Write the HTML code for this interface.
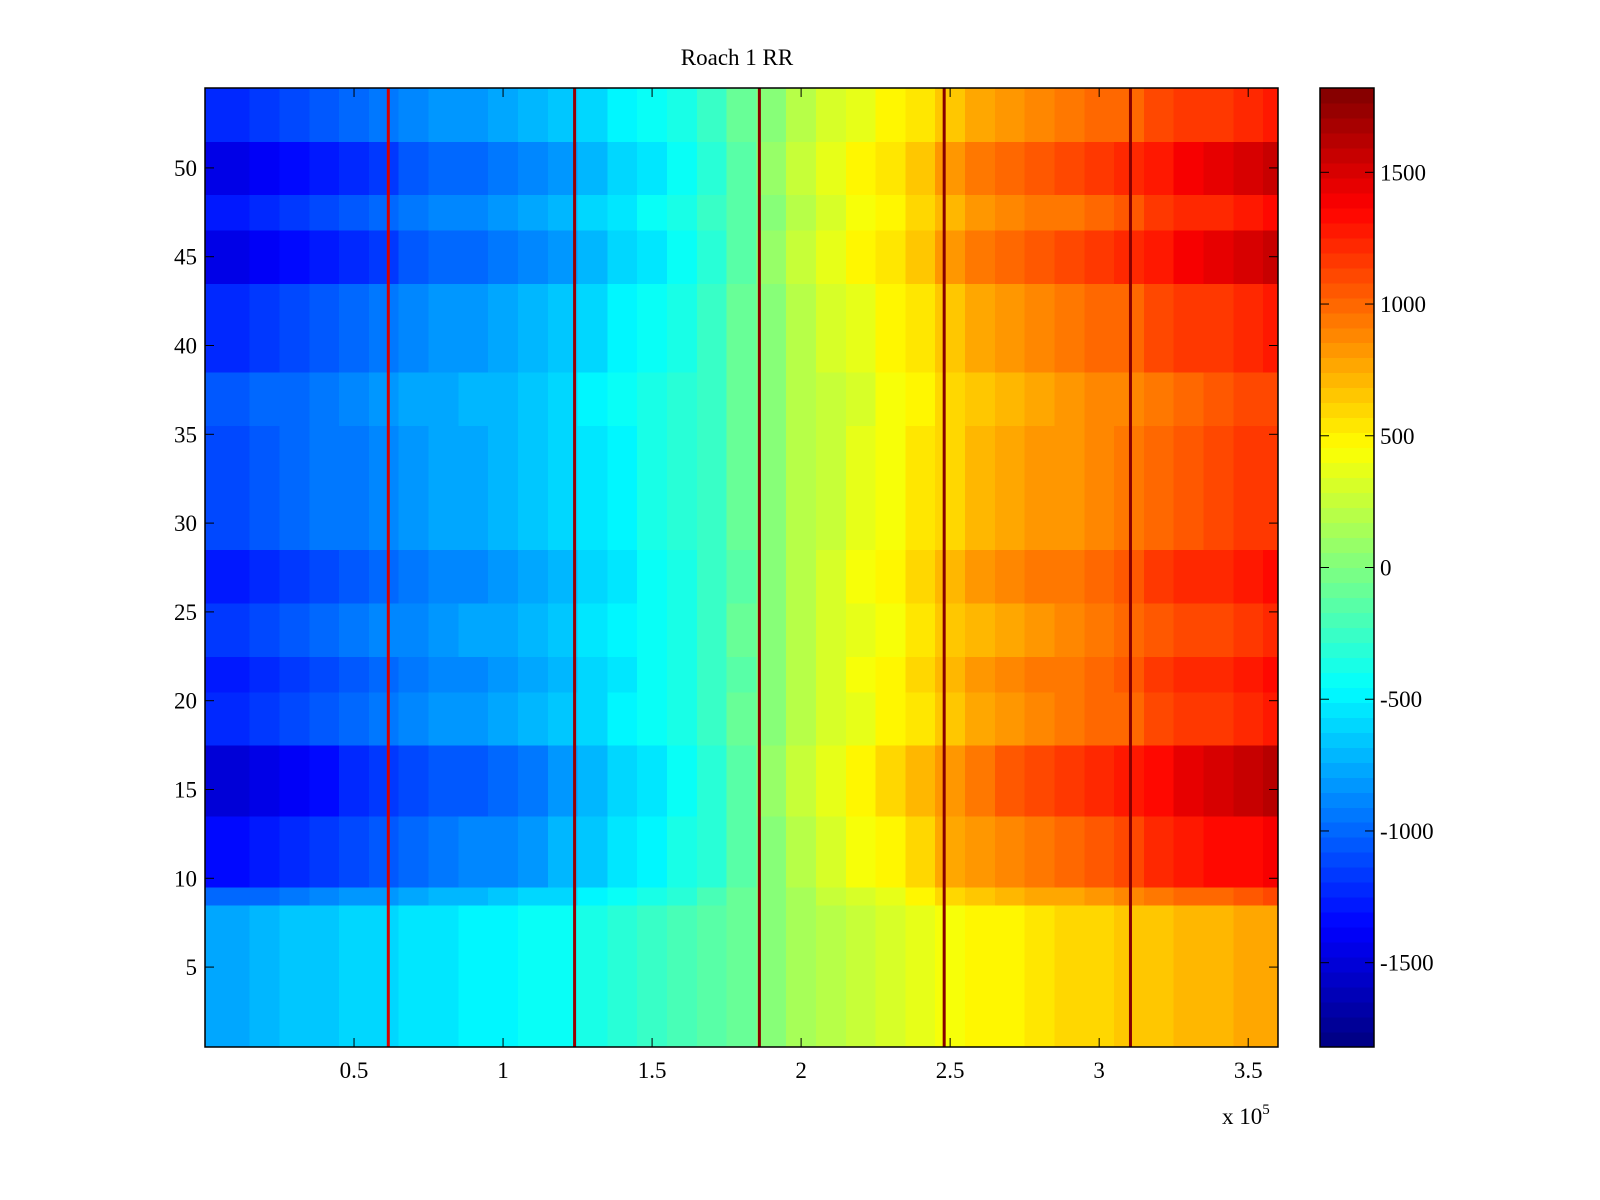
<!DOCTYPE html>
<html><head><meta charset="utf-8"><style>
html,body{margin:0;padding:0;background:#fff;width:1600px;height:1200px;overflow:hidden}
svg text{font-family:"Liberation Serif",serif;font-size:23px;fill:#000}
</style></head><body>
<svg id="fig" width="1600" height="1200" viewBox="0 0 1600 1200" xmlns="http://www.w3.org/2000/svg">
<rect width="1600" height="1200" fill="#fff"/>
<text x="737" y="65" text-anchor="middle">Roach 1 RR</text>
<g id="cells" shape-rendering="crispEdges"></g>
<g id="vlines"></g>
<g id="cbar" shape-rendering="crispEdges"></g>
<g id="axes"></g>
</svg>
<script>
// ---- data ----
const colCenters = [0,0.1,0.2,0.3,0.4,0.5,0.6,0.7,0.8,0.9,1.0,1.1,1.2,1.3,1.4,1.5,1.6,1.7,1.8,1.9,2.0,2.1,2.2,2.3,2.4,2.5,2.6,2.7,2.8,2.9,3.0,3.1,3.2,3.3,3.4,3.5,3.6];
const colMeans = [-1200,-1200,-1150,-1100,-1050,-1000,-950,-900,-850,-820,-780,-730,-670,-570,-500,-430,-360,-260,-110,50,200,300,380,460,560,680,760,820,870,920,970,1020,1090,1140,1190,1240,1280];
const rowScales = [0.62,0.62,0.62,0.62,0.62,0.62,0.62,0.62,0.85,1.1,1.1,1.1,1.1,1.25,1.25,1.25,1.25,1.0,1.0,1.0,1.05,1.05,0.95,0.95,0.95,1.05,1.05,1.05,0.92,0.92,0.92,0.92,0.92,0.92,0.92,0.88,0.88,0.88,1.0,1.0,1.0,1.0,1.0,1.2,1.2,1.2,1.05,1.05,1.2,1.2,1.2,1.0,1.0,1.0];
const lineXs = [0.615,1.24,1.86,2.48,3.105];
const lineVals = [1500,1750,1800,1800,1800];
const xTicks = [0.5,1,1.5,2,2.5,3,3.5];
const xTickLabels = ["0.5","1","1.5","2","2.5","3","3.5"];
const yTicks = [5,10,15,20,25,30,35,40,45,50];
const cTicks = [-1500,-1000,-500,0,500,1000,1500];

// ---- scales ----
const PX0=205, PX1=1278, PY0=88, PY1=1047;
const XMIN=0, XMAX=3.6, YMIN=0.5, YMAX=54.5, CMIN=-1820, CMAX=1820;
const xs = v => PX0 + (v-XMIN)/(XMAX-XMIN)*(PX1-PX0);
const ys = v => PY1 - (v-YMIN)/(YMAX-YMIN)*(PY1-PY0);
const CBX0=1320, CBX1=1374;
const cs = v => PY1 - (v-CMIN)/(CMAX-CMIN)*(PY1-PY0);
function jet(v){
  let t=(v-CMIN)/(CMAX-CMIN); t=Math.max(0,Math.min(1,t));
  t=(Math.min(63,Math.floor(t*64))+0.5)/64;
  const c=x=>Math.round(255*Math.max(0,Math.min(1,x)));
  return `rgb(${c(1.5-Math.abs(4*t-3))},${c(1.5-Math.abs(4*t-2))},${c(1.5-Math.abs(4*t-1))})`;
}
const NS="http://www.w3.org/2000/svg";
function mk(tag,attrs,parent){const e=document.createElementNS(NS,tag);for(const k in attrs)e.setAttribute(k,attrs[k]);parent.appendChild(e);return e;}

// ---- cells ----
const cells=document.getElementById('cells');
rowScales.forEach((s,ri)=>{
  const row=ri+1;
  colCenters.forEach((cx,ci)=>{
    const a=Math.max(XMIN,cx-0.05), b=Math.min(XMAX,cx+0.05);
    const r=mk('rect',{x:xs(a),y:ys(row+0.5),width:xs(b)-xs(a)+0.5,height:ys(row-0.5)-ys(row+0.5)+0.5,fill:jet(colMeans[ci]*s)},cells);
    
    
  });
});
const vl=document.getElementById('vlines');
lineXs.forEach((lx,i)=>{
  const r=mk('rect',{x:xs(lx)-1.5,y:PY0,width:3,height:PY1-PY0,fill:jet(lineVals[i])},vl);
  
  
});

// ---- colorbar ----
const cb=document.getElementById('cbar');
for(let i=0;i<64;i++){
  const v0=CMIN+(CMAX-CMIN)*i/64, v1=CMIN+(CMAX-CMIN)*(i+1)/64;
  const r=mk('rect',{x:CBX0,y:cs(v1),width:CBX1-CBX0,height:cs(v0)-cs(v1)+0.5,fill:jet((v0+v1)/2)},cb);
  
  
}

// ---- axes ----
const ax=document.getElementById('axes');
mk('rect',{x:PX0,y:PY0,width:PX1-PX0,height:PY1-PY0,fill:'none',stroke:'#000','stroke-width':1.5},ax);
mk('rect',{x:CBX0,y:PY0,width:CBX1-CBX0,height:PY1-PY0,fill:'none',stroke:'#000','stroke-width':1.5},ax);
xTicks.forEach((t,i)=>{
  const x=xs(t);
  mk('line',{x1:x,x2:x,y1:PY1,y2:PY1-9,stroke:'#000','stroke-width':1},ax);
  mk('line',{x1:x,x2:x,y1:PY0,y2:PY0+9,stroke:'#000','stroke-width':1},ax);
  const tx=mk('text',{x:x,y:PY1+31,'text-anchor':'middle'},ax);
  tx.textContent=xTickLabels[i];
  
  
});
yTicks.forEach(t=>{
  const y=ys(t);
  mk('line',{x1:PX0,x2:PX0+9,y1:y,y2:y,stroke:'#000','stroke-width':1},ax);
  mk('line',{x1:PX1,x2:PX1-9,y1:y,y2:y,stroke:'#000','stroke-width':1},ax);
  const tx=mk('text',{x:PX0-8,y:y+8,'text-anchor':'end'},ax);
  tx.textContent=String(t);
  
  
});
cTicks.forEach(t=>{
  const y=cs(t);
  mk('line',{x1:CBX0,x2:CBX0+9,y1:y,y2:y,stroke:'#000','stroke-width':1},ax);
  mk('line',{x1:CBX1,x2:CBX1-9,y1:y,y2:y,stroke:'#000','stroke-width':1},ax);
  const tx=mk('text',{x:CBX1+6,y:y+8},ax);
  tx.textContent=String(t);
  
  
});
const ex=mk('text',{x:1222,y:1124},ax);
ex.innerHTML='x 10<tspan dy="-10" font-size="15">5</tspan>';


</script>
</body></html>
